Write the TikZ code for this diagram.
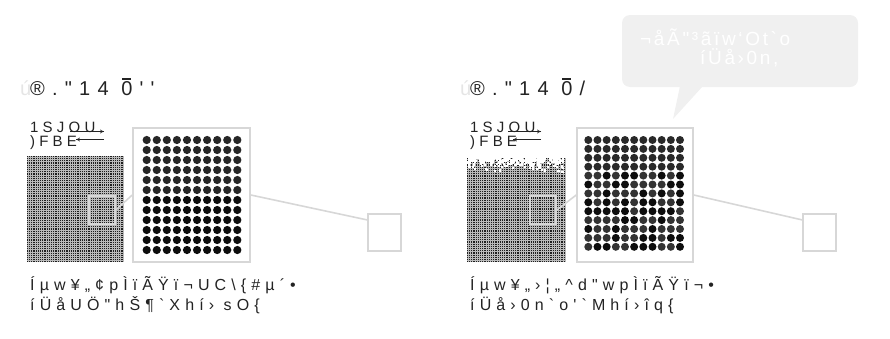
\documentclass[tikz,border=0pt]{standalone}
\usepackage{fontspec}
\setmainfont{Liberation Sans}
\newfontfamily\titlefont{Liberation Sans}[Ligatures=TeXOff, LetterSpace=36]
\newfontfamily\labelfont{Liberation Sans}[Ligatures=TeXOff, LetterSpace=28]
\newfontfamily\captionfont{Liberation Sans}[Ligatures=TeXOff, LetterSpace=32]
\newfontfamily\notefont{Liberation Sans}[Ligatures=TeXOff, LetterSpace=14]
\newcommand\zerobar{\rlap{\kern0.05em\rule[0.77em]{0.45em}{0.065em}}0}
\usetikzlibrary{arrows.meta, calc}
\definecolor{framegray}{RGB}{215,215,215}
\definecolor{notegray}{RGB}{240,240,240}
\definecolor{inkgray}{RGB}{35,35,35}

\begin{document}
\begin{tikzpicture}[x=1pt, y=-1pt, >={To[length=4pt, width=4pt]},
    txt/.style={inner sep=0pt, anchor=base west, text=inkgray},
    titletxt/.style={txt, font=\titlefont\fontsize{20}{22}\selectfont},
    labeltxt/.style={txt, font=\labelfont\fontsize{15}{17}\selectfont},
    captiontxt/.style={txt, font=\captionfont\fontsize{16}{18}\selectfont},
    notetxt/.style={txt, text=white, font=\notefont\fontsize{19}{21}\selectfont},
    zoomframe/.style={draw=framegray, line width=1.6pt, inner sep=0pt},
    zoomline/.style={draw=framegray, line width=1.6pt},
    gridline/.style={draw=black!27, line width=0.4pt},
    arrowline/.style={->, draw=inkgray, line width=0.6pt}]
  \useasboundingbox (0,0) rectangle (890,338);
  % Panel 1: uniform texture
  \begin{scope}[xshift=0]
    \node[titletxt, text=black!10] (ghostL) at (20,95) {ú};
    \node[titletxt] (titleL) at (30,95) {®."14 \zerobar''};
    \node[labeltxt] (pullL) at (30,132) {1SJOU};
    \node[labeltxt] (holdL) at (30,146) {)FBE};
    \coordinate (pullL0) at (70,131.5);
    \coordinate (pullL1) at (104,131.5);
    \coordinate (holdL0) at (104,139.5);
    \coordinate (holdL1) at (76,139.5);
    \draw[arrowline] (pullL0) -- (pullL1);
    \draw[arrowline] (holdL0) -- (holdL1);
    % texture
    \fill[black!88] (27,156) rectangle (124,262);
    \foreach \x in {28.1,30.3,...,124}
      \draw[gridline] (\x,156) -- (\x,262);
    \foreach \y in {157.1,159.3,...,262}
      \draw[gridline] (27,\y) -- (124,\y);
    \node[zoomframe, minimum width=26, minimum height=28] (spotL) at (102,210) {};
    \node[zoomframe, fill=white, minimum width=117, minimum height=134] (lensL) at (191.5,195) {};
    \foreach \r in {0,...,11}
      \foreach \c in {0,...,9} {
        \pgfmathsetmacro\shade{\r<6 ? 85 : 95}
        \fill[black!\shade] (146.7+10.07*\c, 140+10*\r) circle (4.1);
      }
    \node[zoomframe, minimum width=33, minimum height=37] (farL) at (384.5,232.5) {};
    \draw[zoomline] (spotL.east) -- (lensL.west);
    \draw[zoomline] (lensL.east) -- (farL.144);
    \node[captiontxt] (capL1) at (30,290) {Íµw¥„¢pÌïÃŸï¬UC\textbackslash\{\#µ´•};
    \node[captiontxt] (capL2) at (30,310) {íÜåUÖ"hŠ¶`Xhí› sO\{};
  \end{scope}
  % Panel 2: texture with dissolved top, speech bubble
  \begin{scope}[xshift=440]
    \node[titletxt, text=black!10] (ghostR) at (20,95) {ú};
    \node[titletxt] (titleR) at (30,95) {®."14 \zerobar/};
    \node[labeltxt] (pullR) at (30,132) {1SJOU};
    \node[labeltxt] (holdR) at (30,146) {)FBE};
    \coordinate (pullR0) at (68,131.5);
    \coordinate (pullR1) at (101,131.5);
    \coordinate (holdR0) at (101,139.5);
    \coordinate (holdR1) at (73,139.5);
    \draw[arrowline] (pullR0) -- (pullR1);
    \draw[arrowline] (holdR0) -- (holdR1);
    % texture
    \fill[black!88] (27,158) rectangle (125,262);
    \foreach \x in {28.1,30.3,...,125}
      \draw[gridline] (\x,158) -- (\x,262);
    \foreach \y in {159.1,161.3,...,262}
      \draw[gridline] (27,\y) -- (125,\y);
    \pgfmathsetseed{11}
    \foreach \i in {1,...,260} {
      \pgfmathsetmacro\px{27+96*rnd}
      \pgfmathsetmacro\py{157+15*rnd*rnd}
      \fill[white] (\px,\py) rectangle ++(2.2,2.2);
    }
    \node[zoomframe, minimum width=26, minimum height=28] (spotR) at (103,210) {};
    \node[zoomframe, fill=white, minimum width=116, minimum height=134] (lensR) at (195,195) {};
    \foreach \r in {0,...,12}
      \foreach \c in {0,...,10} {
        \pgfmathsetmacro\shade{\r<4 ? 84 : (rnd<0.5 ? 80 : 95)}
        \fill[black!\shade] (148.3+9.17*\c, 140+8.9*\r) circle (4);
      }
    \node[zoomframe, minimum width=33, minimum height=37] (farR) at (379.5,232.5) {};
    \draw[zoomline] (spotR.east) -- (lensR.west);
    \draw[zoomline] (lensR.east) -- (farR.144);
    \node[captiontxt] (capR1) at (30,290) {Íµw¥„›¦„\textasciicircum d"wpÌïÃŸï¬•};
    \node[captiontxt] (capR2) at (30,310) {íÜå›0n`o'`Mhí›îq\{};
    % speech bubble
    \node[fill=notegray, rounded corners=8pt, minimum width=236, minimum height=72, inner sep=0pt] (bubble) at (300,51) {};
    \coordinate (tailtip) at (233,119);
    \fill[notegray] (240,86) -- (263,86) -- (tailtip) -- cycle;
    \node[notetxt] (noteA) at (200,45) {¬åÃ"³ãïw‘Ot`o};
    \node[notetxt] (noteB) at (260,64) {íÜå›0n,};
  \end{scope}
\end{tikzpicture}
\end{document}
